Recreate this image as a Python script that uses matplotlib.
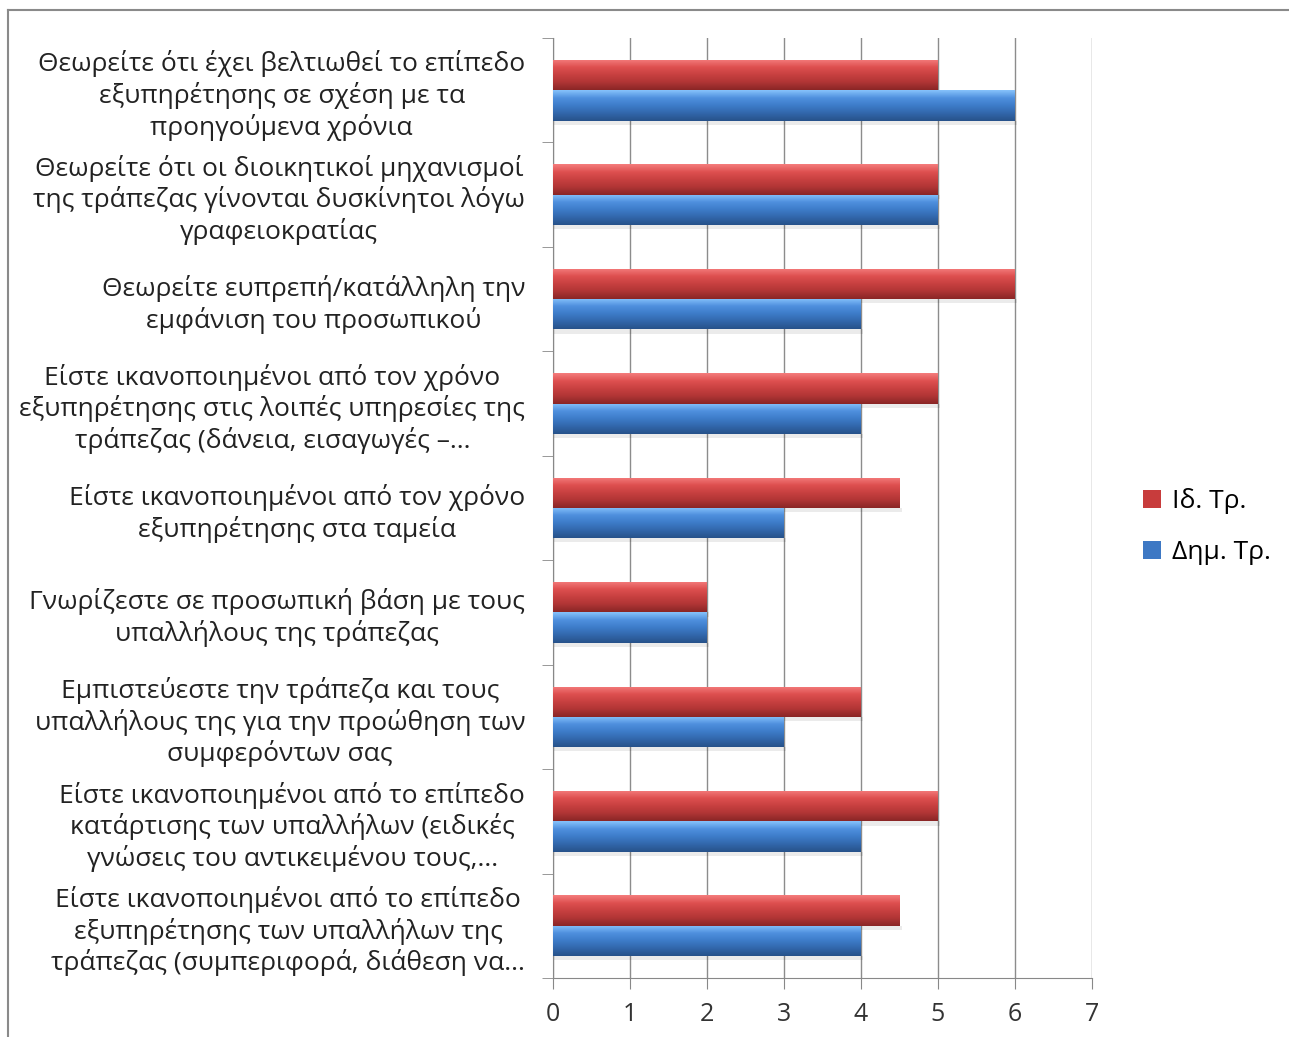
import numpy as np
import matplotlib.pyplot as plt
from matplotlib.colors import LinearSegmentedColormap
from matplotlib.lines import Line2D

plt.rcParams['font.family'] = ['Open Sans', 'DejaVu Sans']

# question labels, top to bottom
questions = [
    "Θεωρείτε ότι έχει βελτιωθεί το επίπεδο\nεξυπηρέτησης σε σχέση με τα\nπροηγούμενα χρόνια",
    "Θεωρείτε ότι οι διοικητικοί μηχανισμοί\nτης τράπεζας γίνονται δυσκίνητοι λόγω\nγραφειοκρατίας",
    "Θεωρείτε ευπρεπή/κατάλληλη την\nεμφάνιση του προσωπικού",
    "Είστε ικανοποιημένοι από τον χρόνο\nεξυπηρέτησης στις λοιπές υπηρεσίες της\nτράπεζας (δάνεια, εισαγωγές –...",
    "Είστε ικανοποιημένοι από τον χρόνο\nεξυπηρέτησης στα ταμεία",
    "Γνωρίζεστε σε προσωπική βάση με τους\nυπαλλήλους της τράπεζας",
    "Εμπιστεύεστε την τράπεζα και τους\nυπαλλήλους της για την προώθηση των\nσυμφερόντων σας",
    "Είστε ικανοποιημένοι από το επίπεδο\nκατάρτισης των υπαλλήλων (ειδικές\nγνώσεις του αντικειμένου τους,...",
    "Είστε ικανοποιημένοι από το επίπεδο\nεξυπηρέτησης των υπαλλήλων της\nτράπεζας (συμπεριφορά, διάθεση να...",
]
private_vals = [5, 5, 6, 5, 4.5, 2, 4, 5, 4.5]   # Ιδ. Τρ.
public_vals = [6, 5, 4, 4, 3, 2, 3, 4, 4]        # Δημ. Τρ.
series_names = ["Ιδ. Τρ.", "Δημ. Τρ."]

red_cmap = LinearSegmentedColormap.from_list(
    "r", ["#f47c7c", "#de5050", "#c84040", "#b03535", "#8a2626"])
blue_cmap = LinearSegmentedColormap.from_list(
    "b", ["#86c2fb", "#4f90de", "#3d7cc9", "#3267ab", "#27528a"])

fig = plt.figure(figsize=(12.89, 10.37), dpi=100)
ax = fig.add_axes([553 / 1289, 1 - 978 / 1037, (1092 - 553) / 1289, (978 - 38) / 1037])

y = np.arange(len(questions))
h = 0.29
red_bars = ax.barh(y - h / 2, private_vals, height=h, color="#c83c3c", label=series_names[0], zorder=3)
blue_bars = ax.barh(y + h / 2, public_vals, height=h, color="#3d78c4", label=series_names[1], zorder=3)

grad = np.linspace(0, 1, 64).reshape(-1, 1)
for bars, cmap in ((red_bars, red_cmap), (blue_bars, blue_cmap)):
    for p in bars:
        x0, y0, w, hh = p.get_x(), p.get_y(), p.get_width(), p.get_height()
        # soft shadow below the bar
        ax.fill_between([x0, x0 + w + 0.03], y0 + hh, y0 + hh + 0.04,
                        color="#000000", alpha=0.08, lw=0, zorder=2)
        im = ax.imshow(grad, cmap=cmap, aspect="auto", extent=[x0, x0 + w, y0 + hh, y0],
                       zorder=4, interpolation="bilinear")
        im.set_clip_path(p)

ax.set_xlim(0, 7)
ax.set_ylim(len(questions) - 0.5, -0.5)
ax.set_xticks(range(8))
ax.tick_params(axis="x", labelsize=18, length=8, color="#888888", pad=9, colors="#333333")
ax.grid(axis="x", color="#8c8c8c", lw=1, zorder=0)

ax.set_yticks(y)
ax.set_yticklabels(questions, fontsize=19, multialignment="center", linespacing=1.22, color="#222222")
ax.tick_params(axis="y", length=0, pad=20)
ax.set_yticks(np.arange(-0.5, len(questions) + 0.5, 1), minor=True)
ax.tick_params(axis="y", which="minor", length=8, color="#888888")

for s in ["top", "right"]:
    ax.spines[s].set_visible(False)
ax.spines["left"].set_color("#888888")
ax.spines["bottom"].set_color("#888888")

ax.legend(handles=[red_bars, blue_bars], loc="center left", bbox_to_anchor=(1.05, 0.48),
          frameon=False, fontsize=19, handlelength=0.7, handleheight=0.7,
          handletextpad=0.4, labelspacing=1.0)

# outer chart border (top and left visible)
fig.add_artist(Line2D([8 / 1289, 1], [1 - 10 / 1037] * 2, color="#8a8a8a", lw=1.5))
fig.add_artist(Line2D([8 / 1289] * 2, [0, 1 - 10 / 1037], color="#8a8a8a", lw=1.5))

fig.savefig("out.png", dpi=100)
